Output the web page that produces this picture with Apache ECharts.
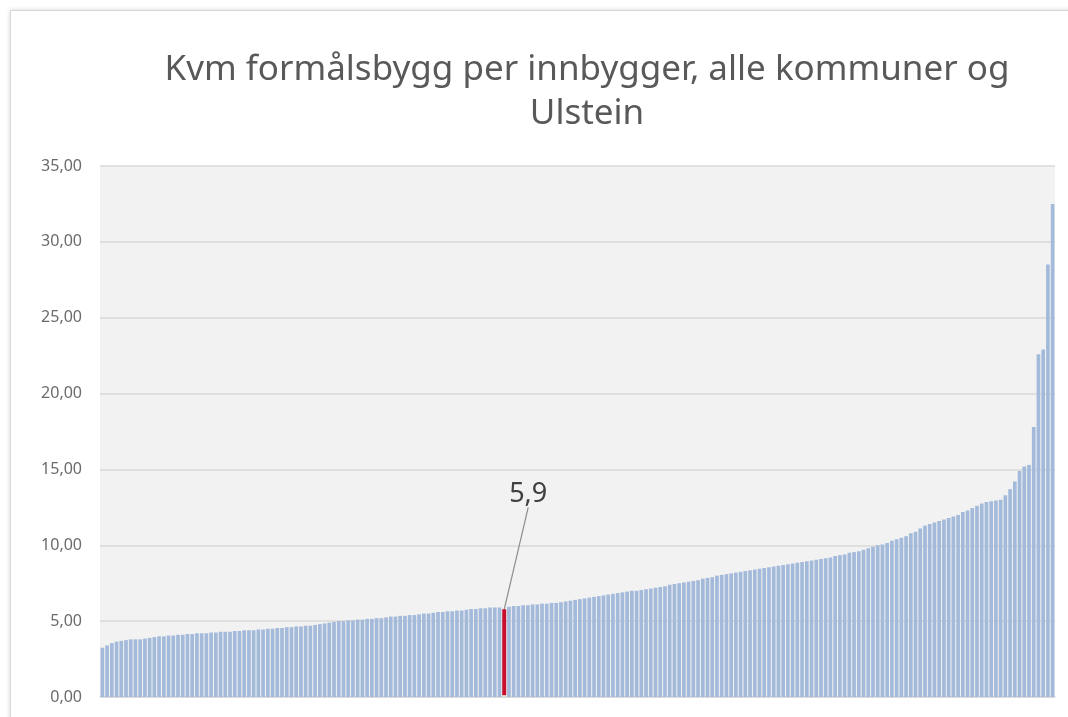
<!DOCTYPE html>
<html>
<head>
<meta charset="utf-8">
<script src="https://cdn.jsdelivr.net/npm/echarts@6/dist/echarts.min.js"></script>
<style>
  html, body { margin: 0; padding: 0; background: #fff; overflow: hidden; }
  #frame {
    position: absolute; left: 10px; top: 10px; width: 1080px; height: 720px;
    border: 1px solid #d9d9d9; box-shadow: 0 0 4px rgba(0,0,0,0.18);
  }
  #chart { position: absolute; left: 0; top: 0; width: 1068px; height: 717px; }
</style>
</head>
<body>
<div id="frame"></div>
<div id="chart"></div>
<script>
// Kvm formålsbygg per innbygger, sortert stigende (alle kommuner)
const values = [
  3.25, 3.4, 3.55, 3.65, 3.7, 3.75, 3.8, 3.8, 3.8, 3.85, 3.9, 3.95,
  4.0, 4.0, 4.05, 4.05, 4.1, 4.1, 4.15, 4.15, 4.2, 4.2,
  4.2, 4.25, 4.25, 4.3, 4.3, 4.3, 4.35, 4.35, 4.4, 4.4,
  4.4, 4.45, 4.45, 4.5, 4.5, 4.55, 4.55, 4.6, 4.6, 4.65,
  4.65, 4.7, 4.7, 4.75, 4.8, 4.85, 4.9, 4.95, 5.0, 5.0,
  5.05, 5.05, 5.1, 5.1, 5.15, 5.15, 5.2, 5.2, 5.25, 5.3,
  5.3, 5.35, 5.35, 5.4, 5.4, 5.45, 5.5, 5.5, 5.55, 5.6,
  5.6, 5.65, 5.65, 5.7, 5.7, 5.75, 5.8, 5.8, 5.85, 5.85,
  5.9, 5.9, 5.9,
  5.9,
  5.95, 6.0, 6.0, 6.05, 6.05, 6.1,
  6.1, 6.15, 6.15, 6.2, 6.2, 6.25, 6.3, 6.35, 6.4, 6.45,
  6.5, 6.55, 6.6, 6.65, 6.7, 6.75, 6.8, 6.85, 6.9, 6.95,
  7.0, 7.0, 7.05, 7.1, 7.15, 7.2, 7.25, 7.3, 7.4, 7.45,
  7.5, 7.55, 7.6, 7.65, 7.7, 7.8, 7.85, 7.9, 8.0, 8.05,
  8.1, 8.15, 8.2, 8.25, 8.3, 8.35, 8.4, 8.45, 8.5, 8.55,
  8.6, 8.65, 8.7, 8.75, 8.8, 8.85, 8.9, 8.95, 9.0, 9.05,
  9.1, 9.15, 9.2, 9.3, 9.35, 9.4, 9.5, 9.55, 9.6, 9.7,
  9.8, 9.9, 10.0, 10.05, 10.15, 10.3, 10.4, 10.5, 10.6, 10.8,
  10.9, 11.1, 11.3, 11.4, 11.5, 11.6, 11.7, 11.8, 11.9, 12.0,
  12.2, 12.3, 12.45, 12.6, 12.75,
  12.85, 12.9, 12.95, 13.0, 13.3, 13.7, 14.2, 14.9, 15.2, 15.3,
  17.8, 22.6, 22.9, 28.5, 32.5
];
const ranks = values.map((_, i) => String(i + 1));
const ulsteinIndex = 85;
const ulsteinLabel = '5,9';
const yTicks = [0, 5, 10, 15, 20, 25, 30, 35];

const chart = echarts.init(document.getElementById('chart'));

const barData = values.map((v, i) => {
  if (i !== ulsteinIndex) return v;
  // Ulstein markert i rødt med etikett
  return {
    value: v,
    itemStyle: { color: '#c8102e', borderColor: '#c8102e', borderWidth: 4 },
    label: {
      show: true,
      position: 'top',
      distance: 0,
      formatter: ulsteinLabel,
      fontSize: 27,
      color: '#404040',
      fontFamily: 'Noto Sans'
    },
    labelLine: { show: true, lineStyle: { color: '#8c8c8c', width: 1.2 } }
  };
});

chart.setOption({
  animation: false,
  backgroundColor: 'transparent',
  title: {
    text: 'Kvm formålsbygg per innbygger, alle kommuner og\nUlstein',
    left: 582,
    top: 43,
    textAlign: 'center',
    textStyle: {
      fontFamily: 'Noto Sans',
      fontSize: 35,
      fontWeight: 'normal',
      color: '#595959',
      lineHeight: 44
    }
  },
  grid: {
    left: 100,
    right: 13,
    top: 166,
    bottom: 20,
    show: true,
    backgroundColor: '#f2f2f2',
    borderWidth: 0
  },
  xAxis: {
    type: 'category',
    data: ranks,
    axisLine: { show: true, lineStyle: { color: '#d9d9d9', width: 1.5 } },
    axisTick: { show: false },
    axisLabel: { show: false }
  },
  yAxis: {
    type: 'value',
    min: yTicks[0],
    max: yTicks[yTicks.length - 1],
    interval: 5,
    axisLine: { show: false },
    axisTick: { show: false },
    axisLabel: {
      formatter: v => v.toFixed(2).replace('.', ','),
      fontFamily: 'Noto Sans',
      fontSize: 16,
      color: '#6b6b6b',
      margin: 18
    },
    splitLine: { lineStyle: { color: '#d9d9d9', width: 1.5 } }
  },
  series: [{
    type: 'bar',
    data: barData,
    barCategoryGap: '22%',
    itemStyle: { color: '#a3badb' },
    labelLayout: p => (p.dataIndex === ulsteinIndex ? { dx: 24, dy: -100 } : null),
    labelLine: { show: false }
  }]
});

window.addEventListener('resize', () => chart.resize());
</script>
</body>
</html>
